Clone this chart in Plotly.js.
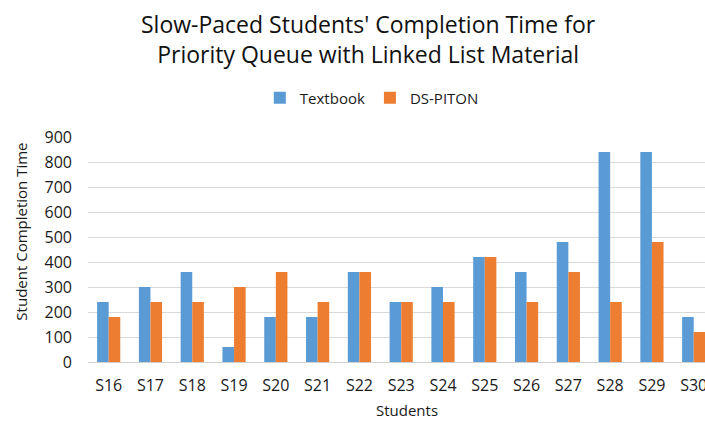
<!DOCTYPE html>
<html>
<head>
<meta charset="utf-8">
<script src="https://cdn.plot.ly/plotly-3.0.1.min.js"></script>
<style>html,body{margin:0;padding:0;background:#fff;}#chart{width:705px;height:422px;}</style>
</head>
<body>
<div id="chart"></div>
<script>
const students = ["S16","S17","S18","S19","S20","S21","S22","S23","S24","S25","S26","S27","S28","S29","S30"];
const textbook = [240,300,360,60,180,180,360,240,300,420,360,480,840,840,180];
const dsPiton  = [180,240,240,300,360,240,360,240,240,420,240,360,240,480,120];
const yTicks = [0,100,200,300,400,500,600,700,800,900];
const titleText = "Slow-Paced Students' Completion Time for<br>Priority Queue with Linked List Material";

const FONT = "Open Sans, Noto Sans, sans-serif";
const traces = [
  {type:"bar", name:"Textbook", x:students, y:textbook, marker:{color:"#5B9BD5"}},
  {type:"bar", name:"DS-PITON", x:students, y:dsPiton, marker:{color:"#ED7D31"}}
];
const layout = {
  width:705, height:422,
  margin:{l:88, r:0, t:137, b:60},
  paper_bgcolor:"#fff", plot_bgcolor:"#fff",
  font:{family:FONT, color:"#1a1a1a"},
  barmode:"group", bargap:0.445, bargroupgap:0,
  showlegend:true,
  legend:{orientation:"h", x:0.46, xanchor:"center", y:1.173, yanchor:"middle",
          font:{size:15, family:FONT, color:"#1a1a1a"}, itemwidth:30, traceorder:"normal"},
  xaxis:{type:"category", range:[-0.495,14.27], showgrid:false, zeroline:false,
         showline:false, ticks:"", ticklabelstandoff:12,
         tickfont:{size:16, family:FONT, color:"#1a1a1a"}, fixedrange:true},
  yaxis:{range:[0,900], tickvals:yTicks, ticktext:yTicks.map(String), showgrid:true,
         gridcolor:"#D9D9D9", gridwidth:1, zeroline:true, zerolinecolor:"#D0D0D0", zerolinewidth:1,
         showline:false, ticks:"", ticklabelstandoff:15,
         tickfont:{size:16, family:FONT, color:"#1a1a1a"}, fixedrange:true},
  annotations:[
    {text:titleText, xref:"paper", yref:"paper", x:0.455, y:1.58, xanchor:"center", yanchor:"top",
     align:"center", showarrow:false, font:{size:23, family:FONT, color:"#111"}},
    {text:"Students", xref:"paper", yref:"paper", x:0.517, y:-0.213, xanchor:"center", yanchor:"middle",
     showarrow:false, font:{size:15, family:FONT, color:"#1a1a1a"}},
    {text:"Student Completion Time", xref:"paper", yref:"paper", x:-0.11, y:0.58, xanchor:"center", yanchor:"middle",
     textangle:-90, showarrow:false, font:{size:15, family:FONT, color:"#1a1a1a"}}
  ]
};
Plotly.newPlot("chart", traces, layout, {displayModeBar:false, staticPlot:true});
</script>
</body>
</html>
